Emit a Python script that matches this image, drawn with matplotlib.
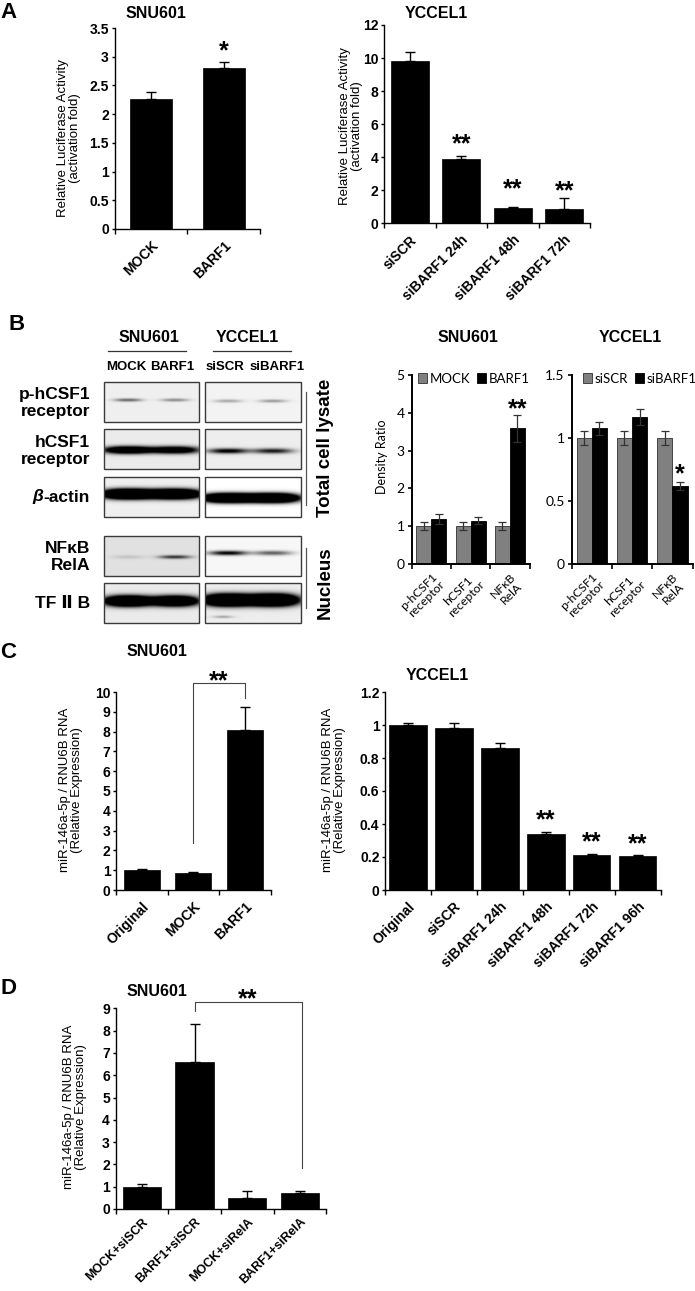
import numpy as np
import matplotlib.pyplot as plt
from matplotlib.patches import Rectangle

plt.rcParams['font.family'] = ['Liberation Sans', 'DejaVu Sans']
plt.rcParams['axes.linewidth'] = 1.0

W, H = 695, 1291
CAL = ['Lato', 'DejaVu Sans']   # calibri-like font of the density charts

# ---------------------------------------------------------------------------
# data
# ---------------------------------------------------------------------------
a1_labels = ['MOCK', 'BARF1']
a1_values = [2.26, 2.80]
a1_errors = [0.12, 0.11]

a2_labels = ['siSCR', 'siBARF1 24h', 'siBARF1 48h', 'siBARF1 72h']
a2_values = [9.84, 3.87, 0.92, 0.85]
a2_errors = [0.54, 0.22, 0.05, 0.66]

b_groups = ['p-hCSF1\nreceptor', 'hCSF1\nreceptor', 'NFκB\nRelA']
b1_names = ['MOCK', 'BARF1']
b1_mock = [1.0, 1.0, 1.0]
b1_mock_err = [0.11, 0.11, 0.11]
b1_barf1 = [1.19, 1.15, 3.59]
b1_barf1_err = [0.12, 0.10, 0.35]
b2_names = ['siSCR', 'siBARF1']
b2_siscr = [1.0, 1.0, 1.0]
b2_siscr_err = [0.053, 0.053, 0.053]
b2_sibarf1 = [1.077, 1.164, 0.62]
b2_sibarf1_err = [0.05, 0.064, 0.03]

c1_labels = ['Original', 'MOCK', 'BARF1']
c1_values = [1.0, 0.84, 8.08]
c1_errors = [0.07, 0.07, 1.18]

c2_labels = ['Original', 'siSCR', 'siBARF1 24h', 'siBARF1 48h',
             'siBARF1 72h', 'siBARF1 96h']
c2_values = [1.0, 0.98, 0.86, 0.339, 0.214, 0.204]
c2_errors = [0.013, 0.033, 0.033, 0.01, 0.004, 0.006]

d_labels = ['MOCK+siSCR', 'BARF1+siSCR', 'MOCK+siRelA', 'BARF1+siRelA']
d_values = [1.0, 6.6, 0.51, 0.70]
d_errors = [0.1, 1.69, 0.3, 0.12]

# western blot band strengths, lanes: MOCK, BARF1, siSCR, siBARF1
blot_labels = ['p-hCSF1\nreceptor', 'hCSF1\nreceptor', '-actin', 'NFκB\nRelA', 'TF Ⅱ B']
blot_strength = [[0.55, 0.40, 0.30, 0.35],
                 [1.8, 1.5, 1.0, 0.85],
                 [3.0, 2.8, 3.0, 3.0],
                 [0.12, 0.70, 1.0, 0.60],
                 [2.6, 2.3, 3.0, 3.0]]

# ---------------------------------------------------------------------------
fig = plt.figure(figsize=(W / 100, H / 100), dpi=100)
over = fig.add_axes([0, 0, 1, 1])
over.axis('off')


def px_axes(x0, y0, x1, y1):
    ax = fig.add_axes([x0 / W, 1 - y1 / H, (x1 - x0) / W, (y1 - y0) / H])
    ax.patch.set_alpha(0)
    for s in ('top', 'right'):
        ax.spines[s].set_visible(False)
    return ax


def star(ax, x, y, s, fs=18):
    # y is the centre of the asterisk glyph
    ax.annotate(s, xy=(x, y), xytext=(0, -0.58 * fs), textcoords='offset points',
                ha='center', va='baseline', fontsize=fs, fontweight='bold',
                annotation_clip=False)


def yticks(ax, ymax, step, **kw):
    ticks = np.arange(0, ymax + step / 2, step)
    ax.set_yticks(ticks)
    ax.set_yticklabels(['{:g}'.format(round(t, 2)) for t in ticks], **kw)


def black_bars(ax, labels, values, errors, width, ymax, step, xfs=10, xpad=7):
    x = np.arange(len(labels))
    ax.bar(x, values, width, color='black', edgecolor='black', linewidth=0.5, zorder=2)
    ax.errorbar(x, values, yerr=[np.zeros(len(x)), errors], fmt='none', ecolor='black',
                elinewidth=1.0, capsize=3.5, capthick=1.0, zorder=3)
    ax.set_xlim(-0.5, len(x) - 0.5)
    ax.set_ylim(0, ymax)
    yticks(ax, ymax, step, fontsize=10, fontweight='bold')
    ax.tick_params(axis='y', length=2.5, width=1, pad=1.5)
    ax.set_xticks(x)
    ax.set_xticklabels(labels, rotation=45, ha='right', va='top',
                       rotation_mode='anchor', fontsize=xfs, fontweight='bold')
    ax.tick_params(axis='x', which='major', length=0, pad=xpad)
    ax.set_xticks(np.arange(-0.5, len(x)), minor=True)
    ax.tick_params(axis='x', which='minor', length=3.5, width=1)


def density_bars(ax, v1, e1, v2, e2, names, ymax, step, legend_x):
    x = np.arange(len(b_groups))
    w = 0.38
    ax.bar(x - w / 2, v1, w, color='#808080', edgecolor='#303030', linewidth=0.6,
           label=names[0], zorder=2)
    ax.bar(x + w / 2, v2, w, color='black', edgecolor='black', linewidth=0.6,
           label=names[1], zorder=2)
    for xx, v, e in ((x - w / 2, v1, e1), (x + w / 2, v2, e2)):
        ax.errorbar(xx, v, yerr=e, fmt='none', ecolor='#333333', elinewidth=0.9,
                    capsize=2.8, capthick=0.9, zorder=3)
    ax.set_xlim(-0.5, len(x) - 0.5)
    ax.set_ylim(0, ymax)
    yticks(ax, ymax, step, fontsize=10, fontfamily=CAL)
    ax.tick_params(axis='y', length=3, width=1.2, pad=2)
    ax.set_xticks(x)
    ax.set_xticklabels(b_groups, rotation=45, ha='right', va='top',
                       rotation_mode='anchor', fontsize=8.8, fontfamily=CAL,
                       multialignment='center', linespacing=1.0)
    ax.tick_params(axis='x', which='major', length=0, pad=5)
    ax.set_xticks(np.arange(-0.5, len(x)), minor=True)
    ax.tick_params(axis='x', which='minor', length=3.5, width=1.2)
    for s in ('left', 'bottom'):
        ax.spines[s].set_linewidth(1.4)
    ax.legend(loc='upper left', bbox_to_anchor=(legend_x, 1.02), ncol=2, frameon=False,
              prop={'family': CAL, 'size': 9.5}, handlelength=0.7, handleheight=0.7,
              handletextpad=0.2, columnspacing=0.5, borderaxespad=0.0, borderpad=0.1)


# ---- A ----
ax = px_axes(114.5, 28, 260, 229)
black_bars(ax, a1_labels, a1_values, a1_errors, 0.58, 3.5, 0.5)
star(ax, 1, 3.23, '*')

ax = px_axes(384, 25, 590, 223.3)
black_bars(ax, a2_labels, a2_values, a2_errors, 0.73, 12, 2)
for i, yc in zip([1, 2, 3], [5.24, 2.52, 2.38]):
    star(ax, i, yc, '**')

# ---- B density ----
ax = px_axes(411.7, 375, 529.6, 564)
density_bars(ax, b1_mock, b1_mock_err, b1_barf1, b1_barf1_err, b1_names, 5, 1, 0.04)
star(ax, 2 + 0.19, 4.29, '**')

ax = px_axes(571.7, 375, 692.5, 564)
density_bars(ax, b2_siscr, b2_siscr_err, b2_sibarf1, b2_sibarf1_err, b2_names, 1.5, 0.5, 0.08)
star(ax, 2 + 0.19, 0.77, '*')

# ---- C ----
ax = px_axes(116, 692, 270.5, 890)
black_bars(ax, c1_labels, c1_values, c1_errors, 0.70, 10, 1)
ax.plot([1, 1, 2, 2], [2.37, 10.47, 10.47, 9.68], color='#444444', lw=0.8, clip_on=False)
star(ax, 1.5, 10.94, '**')

ax = px_axes(385, 692, 660.5, 890)
black_bars(ax, c2_labels, c2_values, c2_errors, 0.82, 1.2, 0.2)
for i, yc in zip([3, 4, 5], [0.465, 0.333, 0.32]):
    star(ax, i, yc, '**')

# ---- D ----
ax = px_axes(115.5, 1008.3, 326.3, 1209)
black_bars(ax, d_labels, d_values, d_errors, 0.73, 9, 1, xfs=9, xpad=5)
ax.plot([1, 1, 3.03, 3.03], [8.9, 9.3, 9.3, 1.83], color='#444444', lw=0.8, clip_on=False)
star(ax, 2, 9.74, '**')

# ---- western blot (drawn on the overlay, pixel coordinates) ----
lane_x = [[128, 175], [228, 273]]
box_x = [(104, 199), (205, 301)]
row_top = [382, 429, 477, 536, 583]
row_h = 40
band_y = [[400, 401], [450, 451], [494, 498], [557, 553], [601, 600]]
band_t = [[1.6, 1.6], [3.6, 2.6], [4.6, 4.3], [1.8, 2.3], [5.0, 5.6]]
band_w = [[14, 14], [24, 20], [25, 25], [16, 19], [23, 24]]
box_bg = [[0.94, 0.95], [0.92, 0.93], [0.94, 1.0], [0.88, 0.97], [0.92, 0.93]]

for r in range(5):
    y0 = row_top[r]
    y1 = y0 + row_h
    for b in range(2):
        x0, x1 = box_x[b]
        X, Y = np.meshgrid(np.linspace(x0, x1, (x1 - x0) * 2), np.linspace(y0, y1, row_h * 2))
        dark = np.zeros_like(X)
        for k in range(2):
            amp = blot_strength[r][2 * b + k]
            fx = np.exp(-np.abs((X - lane_x[b][k]) / band_w[r][b]) ** 2.5)
            fy = np.exp(-((Y - band_y[r][b]) / band_t[r][b]) ** 2)
            dark += amp * fx * fy
        if r == 4 and b == 1:
            dark += 0.3 * np.exp(-((X - 223) / 10) ** 2) * np.exp(-((Y - 617) / 1.3) ** 2)
        img = np.clip(box_bg[r][b] - dark, 0, 1)
        over.imshow(img, cmap='gray', vmin=0, vmax=1, extent=(x0, x1, y1, y0),
                    aspect='auto', interpolation='bilinear', zorder=1)
        over.add_patch(Rectangle((x0, y0), x1 - x0, y1 - y0, fill=False,
                                 edgecolor='#3a3a3a', lw=1.0, zorder=2))

over.set_xlim(0, W)
over.set_ylim(H, 0)

row_label_y = [403, 451, 497, 557, 603]
for lab, yc in zip(blot_labels, row_label_y):
    t = over.text(90, yc, lab, ha='right', va='center', fontsize=12.5,
                  fontweight='bold', multialignment='right', linespacing=1.1)
    if lab == '-actin':
        over.annotate('β', xy=(0, 0), xycoords=t, ha='right', va='bottom',
                      fontsize=12.5, fontweight='bold', style='italic')

for name, xc in zip(['MOCK', 'BARF1', 'siSCR', 'siBARF1'], [126, 172, 225, 277]):
    over.text(xc, 367, name, ha='center', va='center', fontsize=9.5, fontweight='bold')

for name, xc, (xa, xb) in (('SNU601', 149, (108, 186)), ('YCCEL1', 247, (213, 291))):
    over.text(xc, 337, name, ha='center', va='center', fontsize=11.5, fontweight='bold')
    over.plot([xa, xb], [351, 351], color='#333333', lw=0.9)

over.plot([306, 306], [392, 505], color='#555555', lw=0.9)
over.plot([306, 306], [548, 608], color='#555555', lw=0.9)
over.text(325, 448, 'Total cell lysate', rotation=90, ha='center', va='center',
          fontsize=13.5, fontweight='bold')
over.text(325, 583, 'Nucleus', rotation=90, ha='center', va='center',
          fontsize=13.5, fontweight='bold')

# ---- titles, panel letters, axis titles ----
for s, xc, yc in (('SNU601', 156, 13), ('YCCEL1', 436, 13),
                  ('SNU601', 468, 337), ('YCCEL1', 630, 337),
                  ('SNU601', 157, 652), ('YCCEL1', 437, 675),
                  ('SNU601', 157, 992)):
    over.text(xc, yc, s, ha='center', va='center', fontsize=11.5, fontweight='bold')

for s, xc, yc in (('A', 0, 13), ('B', 9, 325), ('C', 0, 652), ('D', 0, 988)):
    over.text(xc, yc, s, ha='left', va='center', fontsize=16, fontweight='bold')

luc = 'Relative Luciferase Activity\n(activation fold)'
mir = 'miR-146a-5p / RNU6B RNA\n(Relative Expression)'
for s, xc, yc in ((luc, 69, 138), (luc, 351, 126), (mir, 71, 790),
                  (mir, 334, 790), (mir, 75, 1107)):
    over.text(xc, yc, s, rotation=90, ha='center', va='center', fontsize=9.5,
              multialignment='center', linespacing=1.05)
over.text(382, 457, 'Density Ratio', rotation=90, ha='center', va='center',
          fontsize=9, fontfamily=CAL)

fig.savefig('out.png', dpi=100)
